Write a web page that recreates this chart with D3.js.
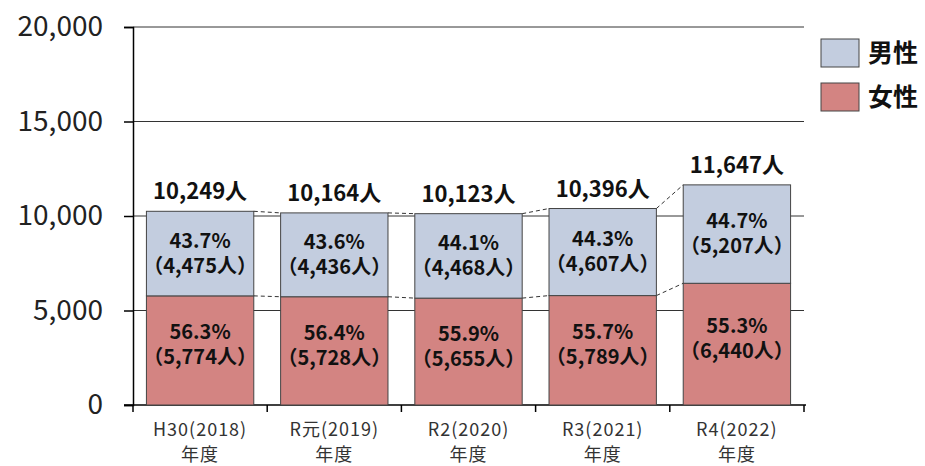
<!DOCTYPE html>
<html><head><meta charset="utf-8">
<script src="https://cdn.jsdelivr.net/npm/d3@7/dist/d3.min.js"></script>
<style>
body{margin:0;background:#fff;}
text{font-family:"Noto Sans CJK JP","Noto Sans",sans-serif;}
</style></head>
<body><svg id="c" width="925" height="466"></svg>
<script>
const categories = ["H30(2018)", "R元(2019)", "R2(2020)", "R3(2021)", "R4(2022)"];
const female = [5774, 5728, 5655, 5789, 6440];
const male = [4475, 4436, 4468, 4607, 5207];
const totals = [10249, 10164, 10123, 10396, 11647];
const femalePct = ["56.3%", "56.4%", "55.9%", "55.7%", "55.3%"];
const malePct = ["43.7%", "43.6%", "44.1%", "44.3%", "44.7%"];
const yTicks = [0, 5000, 10000, 15000, 20000];
const legendLabels = ["男性", "女性"];

const colMale = "#C3CDDF", colFemale = "#D38482";
const svg = d3.select("#c");
const L = 133, R = 804, T = 27, B = 405;
const x = d3.scaleBand().domain(categories).range([L, R]).paddingInner(0.2).paddingOuter(0.1);
const y = d3.scaleLinear().domain([0, 20000]).range([B, T]);
const fmt = d3.format(",");

// gridlines
svg.append("g").selectAll("line").data(yTicks.filter(d => d > 0)).join("line")
  .attr("x1", L).attr("x2", R).attr("y1", d => y(d)).attr("y2", d => y(d))
  .attr("stroke", "#333").attr("stroke-width", 1);

// y axis
const ya = svg.append("g").attr("transform", `translate(${L},0)`)
  .call(d3.axisLeft(y).tickValues(yTicks).tickFormat(fmt).tickSize(9).tickPadding(21));
ya.select(".domain").attr("stroke", "#000").attr("stroke-width", 1.5);
ya.selectAll(".tick line").attr("stroke", "#000").attr("stroke-width", 1.5);
ya.selectAll("text").attr("font-size", 28).attr("fill", "#222").attr("font-family", '"Noto Sans CJK JP",sans-serif');

// x axis
const xa = svg.append("g").attr("transform", `translate(0,${B})`);
xa.append("line").attr("x1", L - 9).attr("x2", R + 2).attr("y1", 0).attr("y2", 0).attr("stroke", "#000").attr("stroke-width", 1.5);
const bounds = categories.map(c => x(c) - x.step() * x.paddingInner() / 2).concat([R]);
xa.selectAll("line.tk").data(bounds).join("line").attr("class", "tk")
  .attr("x1", d => d).attr("x2", d => d).attr("y1", 0).attr("y2", 7).attr("stroke", "#000").attr("stroke-width", 1.5);
const xl = xa.selectAll("text.xl").data(categories).join("text").attr("class", "xl")
  .attr("x", d => x(d) + x.bandwidth() / 2).attr("text-anchor", "middle")
  .attr("font-size", 18).attr("letter-spacing", 1).attr("fill", "#333");
xl.append("tspan").attr("x", d => x(d) + x.bandwidth() / 2).attr("y", 31).text(d => d);
xl.append("tspan").attr("x", d => x(d) + x.bandwidth() / 2).attr("y", 56).text("年度");

// dashed connectors
const conn = svg.append("g");
for (let i = 0; i < categories.length - 1; i++) {
  const x1 = x(categories[i]) + x.bandwidth(), x2 = x(categories[i + 1]);
  [[totals[i], totals[i + 1]], [female[i], female[i + 1]]].forEach(([a, b]) => {
    conn.append("line").attr("x1", x1).attr("x2", x2).attr("y1", y(a)).attr("y2", y(b))
      .attr("stroke", "#333").attr("stroke-width", 1).attr("stroke-dasharray", "4,3");
  });
}

// bars
const bars = svg.append("g");
categories.forEach((c, i) => {
  bars.append("rect").attr("x", x(c)).attr("width", x.bandwidth())
    .attr("y", y(female[i])).attr("height", y(0) - y(female[i]))
    .attr("fill", colFemale).attr("stroke", "#444").attr("stroke-width", 1);
  bars.append("rect").attr("x", x(c)).attr("width", x.bandwidth())
    .attr("y", y(female[i] + male[i])).attr("height", y(female[i]) - y(female[i] + male[i]))
    .attr("fill", colMale).attr("stroke", "#444").attr("stroke-width", 1);
});

// labels
const lab = svg.append("g").attr("font-weight", "bold").attr("fill", "#111").attr("text-anchor", "middle").attr("font-size", 20);
categories.forEach((c, i) => {
  const cx = x(c) + x.bandwidth() / 2;
  lab.append("text").attr("x", cx).attr("y", y(totals[i]) - 12).attr("font-size", 22).text(fmt(totals[i]) + "人");
  const mc = (y(female[i]) + y(female[i] + male[i])) / 2;
  lab.append("text").attr("x", cx).attr("y", mc - 6).text(malePct[i]);
  lab.append("text").attr("x", cx).attr("y", mc + 19).text("（" + fmt(male[i]) + "人）");
  const fc = (y(0) + y(female[i])) / 2;
  lab.append("text").attr("x", cx).attr("y", fc - 11).text(femalePct[i]);
  lab.append("text").attr("x", cx).attr("y", fc + 14).text("（" + fmt(female[i]) + "人）");
});

// legend
const lg = svg.append("g");
[colMale, colFemale].forEach((col, i) => {
  lg.append("rect").attr("x", 821).attr("y", 39 + i * 44).attr("width", 38).attr("height", 28)
    .attr("fill", col).attr("stroke", "#444").attr("stroke-width", 1);
  lg.append("text").attr("x", 868).attr("y", 53 + i * 44).attr("dy", "0.35em")
    .attr("font-size", 25).attr("font-weight", "bold").attr("fill", "#111").text(legendLabels[i]);
});
</script></body></html>
